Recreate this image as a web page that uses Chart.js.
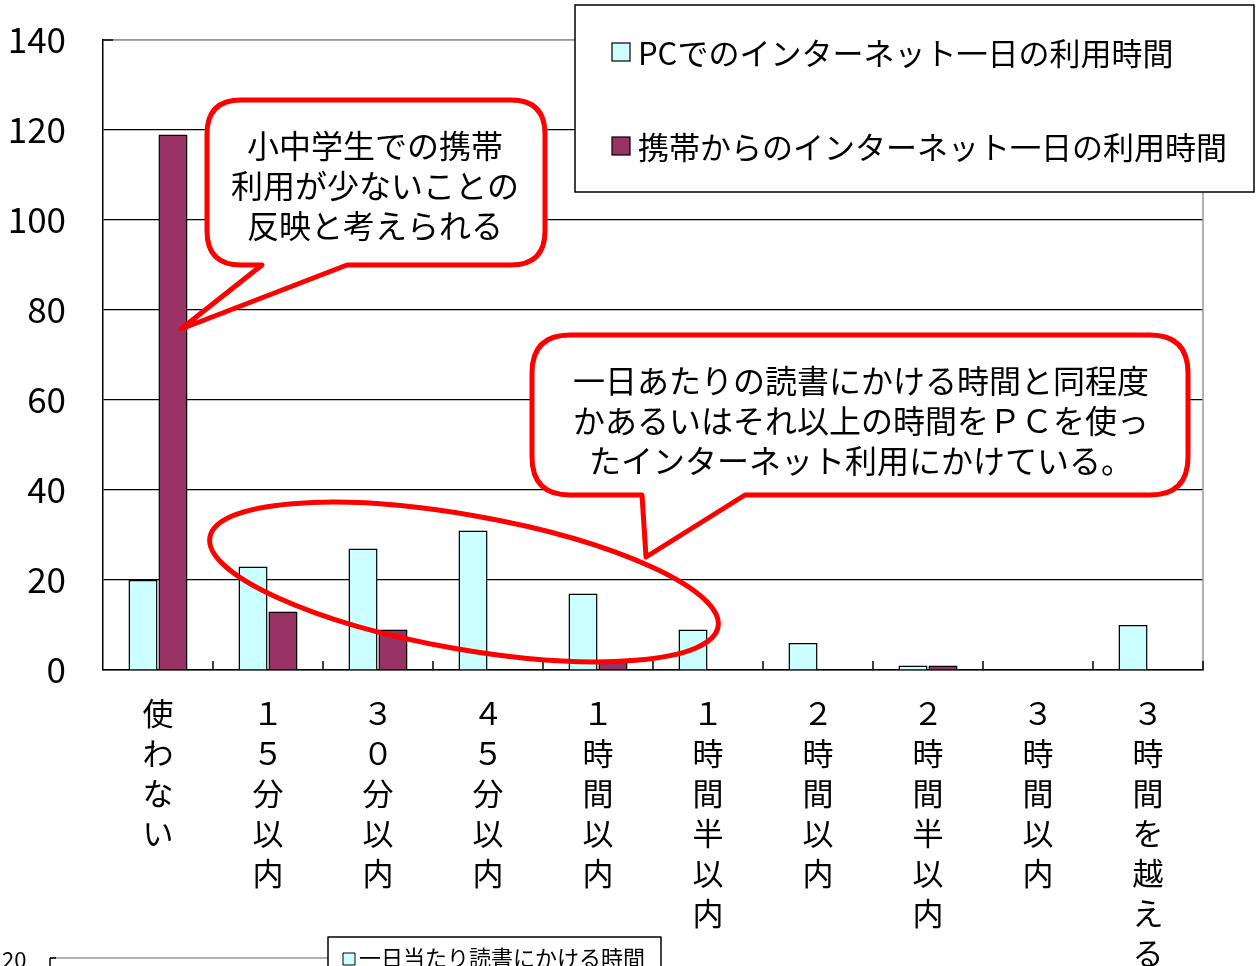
<!DOCTYPE html>
<html><head><meta charset="utf-8">
<script src="https://cdn.jsdelivr.net/npm/chart.js@4"></script>
<style>html,body{margin:0;padding:0;background:#fff;overflow:hidden}canvas{display:block}</style>
</head><body>
<canvas id="c" width="1259" height="966"></canvas>
<script>
const categories = ["使わない","１５分以内","３０分以内","４５分以内","１時間以内","１時間半以内","２時間以内","２時間半以内","３時間以内","３時間を越える"];
const pcValues = [20, 23, 27, 31, 17, 9, 6, 1, 0, 10];
const mobileValues = [119, 13, 9, 0, 2, 0, 0, 1, 0, 0];
const seriesNames = ["PCでのインターネット一日の利用時間","携帯からのインターネット一日の利用時間"];
const yTicks = [0,20,40,60,80,100,120,140];
const note1 = ["小中学生での携帯","利用が少ないことの","反映と考えられる"];
const note2 = ["一日あたりの読書にかける時間と同程度","かあるいはそれ以上の時間をＰＣを使っ","たインターネット利用にかけている。"];
const nextChartLegend = "一日当たり読書にかける時間";
const nextChartTick = "20";

const FONT = '"Noto Sans CJK JP", sans-serif';
const PC_COLOR = '#ccffff', MOB_COLOR = '#993366';
const PLOT_TOP = 40;

function bubble(ctx, x0, y0, x1, y1, r, t) {
  ctx.beginPath();
  ctx.moveTo(x0 + r, y0);
  ctx.lineTo(x1 - r, y0);
  ctx.quadraticCurveTo(x1, y0, x1, y0 + r);
  ctx.lineTo(x1, y1 - r);
  ctx.quadraticCurveTo(x1, y1, x1 - r, y1);
  ctx.lineTo(t.b2, y1);
  ctx.lineTo(t.tx, t.ty);
  ctx.lineTo(t.b1, y1);
  ctx.lineTo(x0 + r, y1);
  ctx.quadraticCurveTo(x0, y1, x0, y1 - r);
  ctx.lineTo(x0, y0 + r);
  ctx.quadraticCurveTo(x0, y0, x0 + r, y0);
  ctx.closePath();
  ctx.fillStyle = '#fff';
  ctx.fill();
  ctx.lineWidth = 5;
  ctx.lineJoin = 'round';
  ctx.strokeStyle = '#ff0000';
  ctx.stroke();
}

const fixTop = {
  id: 'fixTop',
  afterLayout(chart) {
    const ca = chart.chartArea;
    const y = chart.scales.y;
    ca.top = PLOT_TOP;
    ca.height = ca.bottom - PLOT_TOP;
    y.top = PLOT_TOP;
    y.height = y.bottom - PLOT_TOP;
    y._gridLineItems = null;
    y._labelItems = null;
    y.configure();
  }
};

const overlay = {
  id: 'overlay',
  afterDraw(chart) {
    const ctx = chart.ctx;
    const a = chart.chartArea;
    ctx.save();
    ctx.strokeStyle = '#999';
    ctx.lineWidth = 1.5;
    ctx.beginPath();
    ctx.moveTo(a.left, a.top); ctx.lineTo(a.right, a.top); ctx.lineTo(a.right, a.bottom);
    ctx.stroke();
    ctx.strokeStyle = '#000';
    ctx.lineWidth = 1.5;
    const n = categories.length;
    const w = (a.right - a.left) / n;
    ctx.beginPath();
    for (let i = 1; i <= n; i++) {
      const x = Math.round(a.left + i * w);
      ctx.moveTo(x, a.bottom); ctx.lineTo(x, a.bottom - 9);
    }
    ctx.moveTo(a.left, a.top); ctx.lineTo(a.left + 10, a.top);
    ctx.stroke();

    // legend box
    ctx.fillStyle = '#fff';
    ctx.fillRect(575, 5, 679, 187);
    ctx.strokeStyle = '#000';
    ctx.lineWidth = 1.5;
    ctx.strokeRect(575, 5, 679, 187);
    const ly = [52, 146];
    const lc = [PC_COLOR, MOB_COLOR];
    ctx.font = '31px ' + FONT;
    ctx.textBaseline = 'middle';
    ctx.textAlign = 'left';
    for (let i = 0; i < 2; i++) {
      ctx.fillStyle = lc[i];
      ctx.fillRect(612, ly[i] - 9, 18, 18);
      ctx.strokeStyle = '#000';
      ctx.lineWidth = 1.2;
      ctx.strokeRect(612, ly[i] - 9, 18, 18);
      ctx.fillStyle = '#000';
      ctx.fillText(seriesNames[i], 638, ly[i] + 1);
    }

    // bubble 1
    bubble(ctx, 207, 100, 545, 265, 34, {b1: 262, tx: 181, ty: 329, b2: 347});
    ctx.fillStyle = '#000';
    ctx.font = '32px ' + FONT;
    ctx.textAlign = 'center';
    note1.forEach((s, i) => ctx.fillText(s, 375, 146 + i * 40));
    // bubble 2
    bubble(ctx, 532, 335, 1188, 495, 38, {b1: 642, tx: 646, ty: 557, b2: 745});
    ctx.fillStyle = '#000';
    note2.forEach((s, i) => ctx.fillText(s, 861, 381 + i * 40));

    // ellipse
    ctx.beginPath();
    ctx.ellipse(464, 582, 258, 67, 10 * Math.PI / 180, 0, Math.PI * 2);
    ctx.strokeStyle = '#ff0000';
    ctx.lineWidth = 5;
    ctx.stroke();

    // fragment of the next chart at the bottom
    ctx.fillStyle = '#000';
    ctx.font = '22px ' + FONT;
    ctx.textAlign = 'left';
    ctx.fillText(nextChartTick, 2, 960);
    ctx.strokeStyle = '#999';
    ctx.lineWidth = 1.5;
    ctx.beginPath(); ctx.moveTo(50, 958); ctx.lineTo(330, 958); ctx.stroke();
    ctx.strokeStyle = '#000';
    ctx.beginPath(); ctx.moveTo(50, 958); ctx.lineTo(50, 970); ctx.moveTo(50, 958); ctx.lineTo(56, 958); ctx.stroke();
    ctx.fillStyle = '#fff';
    ctx.fillRect(328, 937, 333, 40);
    ctx.strokeRect(328, 937, 333, 40);
    ctx.fillStyle = PC_COLOR;
    ctx.fillRect(343, 953, 12, 12);
    ctx.strokeStyle = '#000'; ctx.lineWidth = 1;
    ctx.strokeRect(343, 953, 12, 12);
    ctx.fillStyle = '#000';
    ctx.fillText(nextChartLegend, 359, 958);
    ctx.restore();
  }
};

new Chart(document.getElementById('c'), {
  type: 'bar',
  data: {
    labels: categories.map(s => Array.from(s)),
    datasets: [
      {label: seriesNames[0], data: pcValues, backgroundColor: PC_COLOR, borderColor: '#000', borderWidth: 1.5,
       categoryPercentage: 0.545, barPercentage: 0.97},
      {label: seriesNames[1], data: mobileValues, backgroundColor: MOB_COLOR, borderColor: '#000', borderWidth: 1.5,
       categoryPercentage: 0.545, barPercentage: 0.97}
    ]
  },
  options: {
    responsive: false,
    animation: false,
    devicePixelRatio: 1,
    layout: {padding: {left: 0, right: 56, top: 23, bottom: 0}},
    plugins: {legend: {display: false}, tooltip: {enabled: false}},
    scales: {
      x: {
        grid: {display: false},
        border: {display: true, color: '#000', width: 1.5},
        ticks: {color: '#000', font: {family: FONT, size: 31, lineHeight: 1.29}, padding: 15,
                maxRotation: 0, minRotation: 0, autoSkip: false},
        afterFit(s) { s.height = 296; }
      },
      y: {
        min: 0, max: 140,
        afterBuildTicks(s) { s.ticks = yTicks.map(v => ({value: v})); },
        grid: {color: c => (c.tick && c.tick.value === 140) ? '#999' : '#000', lineWidth: 1.2, drawTicks: false},
        border: {display: true, color: '#000', width: 1.5},
        ticks: {color: '#000', font: {family: FONT, size: 35}, padding: 37},
        afterFit(s) { s.width = 103; }
      }
    }
  },
  plugins: [fixTop, overlay]
});
</script>
</body></html>
